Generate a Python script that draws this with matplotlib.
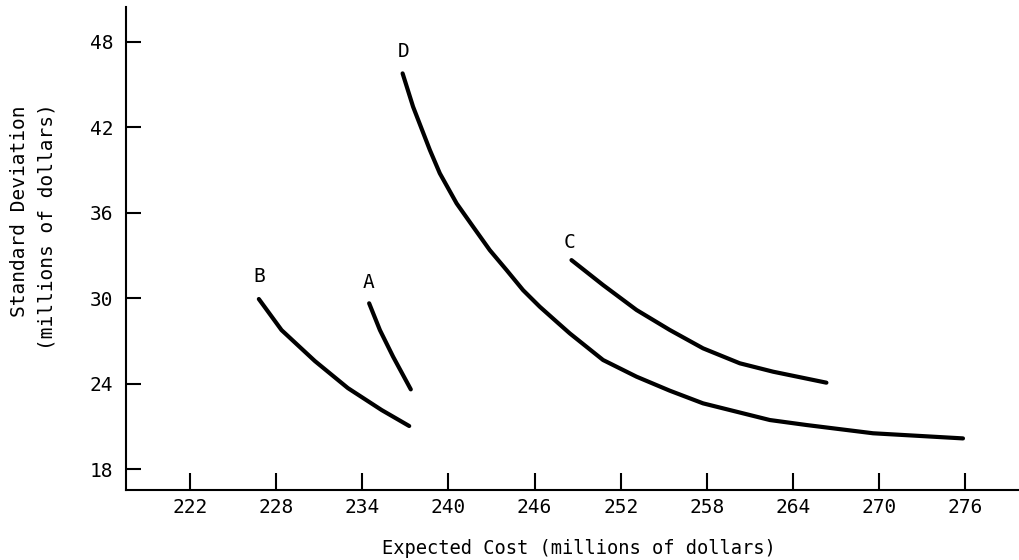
import matplotlib
matplotlib.use("Agg")
import matplotlib.pyplot as plt

# ---- data ----
a_x = [234.48, 235.23, 236.15, 237.38]
a_y = [29.65, 27.77, 25.90, 23.61]

b_x = [226.80, 228.38, 230.70, 233.00, 235.35, 237.27]
b_y = [29.95, 27.77, 25.60, 23.70, 22.16, 21.04]

c_x = [248.57, 250.77, 253.10, 255.41, 257.73, 260.29, 262.61, 266.32]
c_y = [32.68, 30.93, 29.18, 27.78, 26.49, 25.44, 24.85, 24.08]

d_x = [236.81, 237.54, 238.71, 239.40, 240.57, 241.72, 242.88, 244.05, 245.20,
       246.36, 247.53, 248.45, 250.77, 253.10, 255.41, 257.73, 262.38, 264.93,
       269.57, 275.83]
d_y = [45.78, 43.44, 40.40, 38.77, 36.66, 35.02, 33.38, 31.98, 30.57,
       29.41, 28.36, 27.54, 25.67, 24.50, 23.52, 22.63, 21.46, 21.11,
       20.53, 20.17]

labels = ["A", "B", "C", "D"]
label_x = [234.46, 226.8, 248.4, 236.9]
label_y = [31.1, 31.5, 33.9, 47.3]

x_ticks = [222, 228, 234, 240, 246, 252, 258, 264, 270, 276]
y_ticks = [18, 24, 30, 36, 42, 48]

x_title = "Expected Cost (millions of dollars)"
y_title_1 = "Standard Deviation"
y_title_2 = "(millions of dollars)"

# ---- figure ----
FONT = "DejaVu Sans Mono"
W, H = 1020, 560
fig = plt.figure(figsize=(W / 100, H / 100), dpi=100)
ax = fig.add_axes([126 / W, 70 / H, (W - 126) / W, (490 - 6.7) / H])

for xs, ys in [(a_x, a_y), (b_x, b_y), (c_x, c_y), (d_x, d_y)]:
    ax.plot(xs, ys, color="black", lw=3.0, solid_capstyle="round",
            solid_joinstyle="round")

for t, lx, ly in zip(labels, label_x, label_y):
    ax.text(lx, ly, t, ha="center", va="center", fontsize=14,
            family=FONT, color="black")

ax.set_xlim(217.55, 279.8)
ax.set_ylim(16.55, 50.46)
ax.set_xticks(x_ticks)
ax.set_yticks(y_ticks)
ax.set_xticklabels([str(v) for v in x_ticks], family=FONT, fontsize=14)
ax.set_yticklabels([str(v) for v in y_ticks], family=FONT, fontsize=14)

ax.tick_params(axis="x", direction="in", length=12, width=1.5, pad=6)
ax.tick_params(axis="y", direction="in", length=11, width=1.5, pad=9)

for s in ["top", "right"]:
    ax.spines[s].set_visible(False)
for s in ["left", "bottom"]:
    ax.spines[s].set_linewidth(1.5)

fig.text(579 / W, 1 - 548 / H, x_title, ha="center", va="center",
         family=FONT, fontsize=13.5)
fig.text(20 / W, 1 - 211 / H, y_title_1, ha="center", va="center",
         rotation=90, family=FONT, fontsize=14)
fig.text(47 / W, 1 - 227 / H, y_title_2, ha="center", va="center",
         rotation=90, family=FONT, fontsize=14)

fig.savefig("out.png", dpi=100)
